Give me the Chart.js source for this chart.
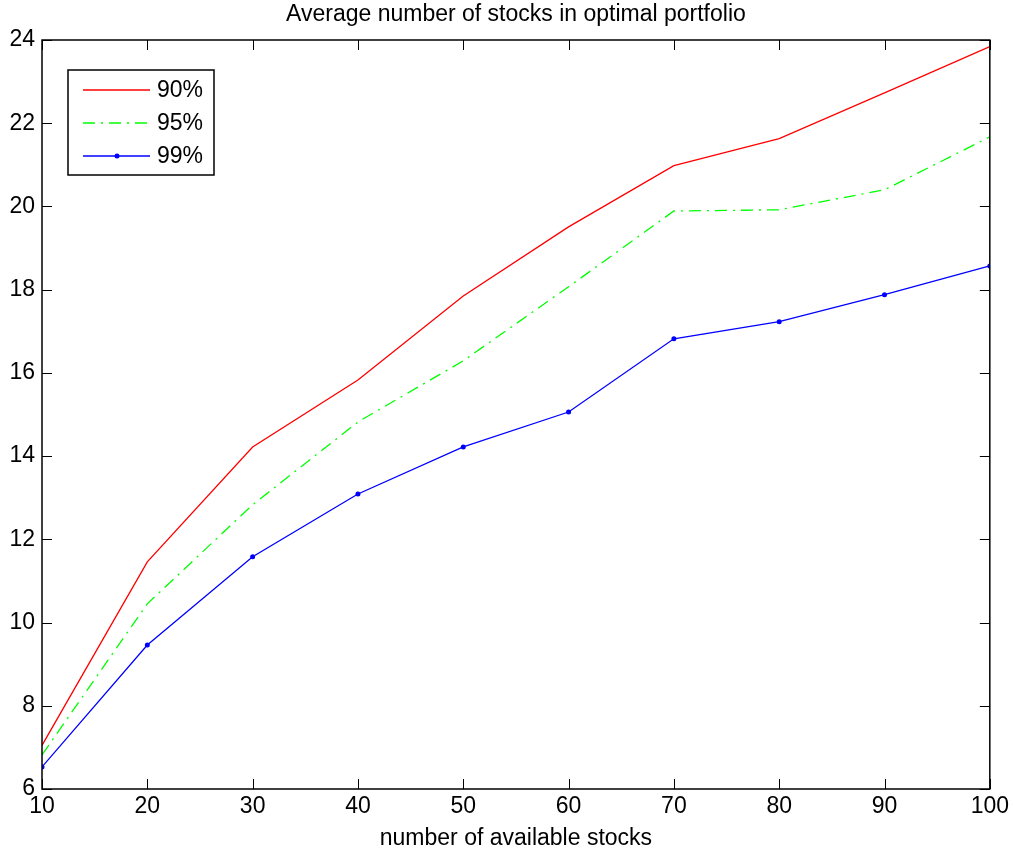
<!DOCTYPE html>
<html>
<head>
<meta charset="utf-8">
<script src="https://cdn.jsdelivr.net/npm/chart.js@4/dist/chart.umd.min.js"></script>
<style>
  html, body { margin: 0; padding: 0; background: #fff; }
  #wrap { width: 1013px; height: 852px; }
</style>
</head>
<body>
<div id="wrap"><canvas id="chart" width="1013" height="852"></canvas></div>
<script>
// Data
const availableStocks = [10, 20, 30, 40, 50, 60, 70, 80, 90, 100];
const conf90 = [7.05, 11.46, 14.22, 15.83, 17.85, 19.51, 20.98, 21.63, 22.73, 23.84];
const conf95 = [6.82, 10.45, 12.83, 14.82, 16.29, 18.07, 19.89, 19.92, 20.40, 21.67];
const conf99 = [6.53, 9.46, 11.58, 13.09, 14.22, 15.06, 16.82, 17.23, 17.88, 18.57];
const xTicks = [10, 20, 30, 40, 50, 60, 70, 80, 90, 100];
const yTicks = [6, 8, 10, 12, 14, 16, 18, 20, 22, 24];

const FONT = '"Liberation Sans", Arial, Helvetica, sans-serif';

const toPoints = (ys) => ys.map((y, i) => ({ x: availableStocks[i], y }));

// Box round the plot area, inner tick marks, title and legend (MATLAB look)
const matlabFrame = {
    id: 'matlabFrame',
    afterDatasetsDraw(chart) {
        const { ctx, chartArea: a, scales: { x, y } } = chart;
        ctx.save();
        ctx.strokeStyle = '#000';
        ctx.lineWidth = 1.5;
        ctx.strokeRect(a.left, a.top, a.right - a.left, a.bottom - a.top);

        ctx.lineWidth = 1;
        ctx.beginPath();
        xTicks.forEach(v => {
            const px = Math.round(x.getPixelForValue(v)) + 0.5;
            ctx.moveTo(px, a.bottom); ctx.lineTo(px, a.bottom - 10);
            ctx.moveTo(px, a.top); ctx.lineTo(px, a.top + 10);
        });
        yTicks.forEach(v => {
            const py = Math.round(y.getPixelForValue(v)) + 0.5;
            ctx.moveTo(a.left, py); ctx.lineTo(a.left + 10, py);
            ctx.moveTo(a.right, py); ctx.lineTo(a.right - 10, py);
        });
        ctx.stroke();

        // title
        ctx.fillStyle = '#000';
        ctx.font = '23px ' + FONT;
        ctx.textAlign = 'center';
        ctx.textBaseline = 'middle';
        ctx.fillText('Average number of stocks in optimal portfolio', (a.left + a.right) / 2, 15);

        // legend
        const lx = 68, ly = 70, lw = 146, lh = 105;
        ctx.fillStyle = '#fff';
        ctx.fillRect(lx, ly, lw, lh);
        ctx.lineWidth = 1.5;
        ctx.strokeStyle = '#000';
        ctx.strokeRect(lx, ly, lw, lh);
        ctx.font = '23px ' + FONT;
        ctx.textAlign = 'left';
        chart.data.datasets.forEach((ds, i) => {
            const rowY = ly + 20 + i * 33;
            ctx.beginPath();
            ctx.strokeStyle = ds.borderColor;
            ctx.lineWidth = 1.3;
            ctx.setLineDash(ds.borderDash || []);
            ctx.moveTo(lx + 15, rowY);
            ctx.lineTo(lx + 82, rowY);
            ctx.stroke();
            ctx.setLineDash([]);
            if (ds.pointRadius > 0) {
                ctx.beginPath();
                ctx.fillStyle = ds.borderColor;
                ctx.arc(lx + 49, rowY, 2.5, 0, Math.PI * 2);
                ctx.fill();
            }
            ctx.fillStyle = '#000';
            ctx.fillText(ds.label, lx + 89, rowY + 1);
        });
        ctx.restore();
    }
};

new Chart(document.getElementById('chart'), {
    type: 'line',
    data: {
        datasets: [
            { label: '90%', data: toPoints(conf90), borderColor: '#ff0000', borderWidth: 1.3, pointRadius: 0, tension: 0 },
            { label: '95%', data: toPoints(conf95), borderColor: '#00ff00', borderWidth: 1.3, borderDash: [12, 6, 2, 6], pointRadius: 0, tension: 0 },
            { label: '99%', data: toPoints(conf99), borderColor: '#0000ff', backgroundColor: '#0000ff', borderWidth: 1.3, pointRadius: 2.5, pointBorderWidth: 0, tension: 0 }
        ]
    },
    options: {
        responsive: false,
        animation: false,
        layout: { padding: { left: 0, top: 40, right: 23, bottom: 0 } },
        plugins: { legend: { display: false }, title: { display: false }, tooltip: { enabled: false } },
        scales: {
            x: {
                type: 'linear',
                min: 10, max: 100,
                afterBuildTicks: (s) => { s.ticks = xTicks.map(v => ({ value: v })); },
                afterFit: (s) => { s.height = 63; },
                grid: { display: false, drawTicks: false },
                border: { display: false },
                ticks: { color: '#000', font: { family: FONT, size: 23 }, padding: 4, maxRotation: 0 },
                title: { display: true, text: 'number of available stocks', color: '#000', font: { family: FONT, size: 23 }, padding: { top: 0, bottom: 0 } }
            },
            y: {
                min: 6, max: 24,
                afterBuildTicks: (s) => { s.ticks = yTicks.map(v => ({ value: v })); },
                afterFit: (s) => { s.width = 42; },
                grid: { display: false, drawTicks: false },
                border: { display: false },
                ticks: { color: '#000', font: { family: FONT, size: 23 }, padding: 7 }
            }
        }
    },
    plugins: [matlabFrame]
});
</script>
</body>
</html>
